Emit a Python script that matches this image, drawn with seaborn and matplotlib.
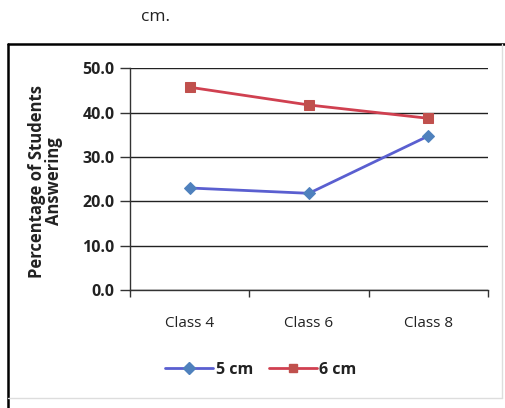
import matplotlib
matplotlib.use("Agg")
import matplotlib.pyplot as plt
import seaborn as sns
import pandas as pd
from matplotlib.lines import Line2D

classes = ["Class 4", "Class 6", "Class 8"]
series_names = ["5 cm", "6 cm"]
values_5cm = [23.0, 21.8, 34.7]
values_6cm = [45.7, 41.7, 38.7]
y_ticks = [0, 10, 20, 30, 40, 50]

df = pd.DataFrame({
    "Class": classes * 2,
    "Percent": values_5cm + values_6cm,
    "Series": [series_names[0]] * 3 + [series_names[1]] * 3,
})
df["pos"] = df["Class"].map({c: i for i, c in enumerate(classes)})

sns.set_theme(style="white")
plt.rcParams["font.family"] = ["Open Sans", "DejaVu Sans"]

fig = plt.figure(figsize=(5.06, 4.08), dpi=100)
ax = fig.add_axes([0.257, 0.289, 0.707, 0.544])

palette = {"5 cm": "#4F81BD", "6 cm": "#C0504D"}
line_colors = {"5 cm": "#5A5FD0", "6 cm": "#D04050"}
markers = {"5 cm": "D", "6 cm": "s"}

for name in series_names:
    sub = df[df["Series"] == name]
    sns.lineplot(data=sub, x="pos", y="Percent", ax=ax, color=line_colors[name],
                 linewidth=2.0, marker=markers[name], markersize=7 if name == "6 cm" else 6,
                 markerfacecolor=palette[name], markeredgecolor=palette[name],
                 legend=False)

ax.set_xlim(-0.5, 2.5)
ax.set_ylim(0, 50)
ax.set_yticks(y_ticks)
ax.set_yticklabels([f"{v:.1f}" for v in y_ticks], fontsize=11.5, fontweight="bold", color="#222222")
ax.set_xticks(range(len(classes)))
ax.set_xticklabels(classes, fontsize=11, color="#222222")
ax.set_xticks([-0.5, 0.5, 1.5, 2.5], minor=True)
ax.tick_params(axis="x", which="major", length=0, pad=19)
ax.tick_params(axis="x", which="minor", length=5, width=1, color="#333333", direction="out", bottom=True)
ax.tick_params(axis="y", length=7, width=1, color="#333333", direction="out", left=True, pad=4)
ax.set_xlabel("")
ax.set_ylabel("Percentage of Students\nAnswering", fontsize=12, fontweight="bold",
              color="#222222", linespacing=0.95)
ax.yaxis.set_label_coords(63 / 506, 1 - 181 / 408, transform=fig.transFigure)
ax.yaxis.grid(True, color="#222222", linewidth=1.0)
ax.xaxis.grid(False)
ax.set_axisbelow(True)
for side in ["top", "right"]:
    ax.spines[side].set_visible(False)
for side in ["left", "bottom"]:
    ax.spines[side].set_color("#333333")
    ax.spines[side].set_linewidth(1.0)

handles = [Line2D([0], [0], color=line_colors[n], linewidth=2, marker=markers[n],
                  markersize=6, markerfacecolor=palette[n], markeredgecolor=palette[n])
           for n in series_names]
leg = fig.legend(handles, series_names, loc="center", bbox_to_anchor=(261 / 506, 1 - 370 / 408),
                 ncol=2, frameon=False, handlelength=3.0, columnspacing=1.0,
                 handletextpad=0.15, prop={"weight": "bold", "size": 11.5})
for t in leg.get_texts():
    t.set_color("#222222")

# outer chart frame
fig.add_artist(Line2D([8 / 506, 8 / 506], [1 - 44 / 408, 0], transform=fig.transFigure,
                      color="black", linewidth=1.8))
fig.add_artist(Line2D([8 / 506, 1], [1 - 44 / 408, 1 - 44 / 408], transform=fig.transFigure,
                      color="black", linewidth=1.8))
fig.add_artist(Line2D([502 / 506, 502 / 506], [1 - 44 / 408, 1 - 398 / 408], transform=fig.transFigure,
                      color="#dddddd", linewidth=1.0))
fig.add_artist(Line2D([8 / 506, 502 / 506], [1 - 398 / 408, 1 - 398 / 408], transform=fig.transFigure,
                      color="#dddddd", linewidth=1.0))

fig.text(156 / 506, 1 - 17 / 408, "cm.", ha="center", va="center", fontsize=12.5, color="#222222")

fig.savefig("out.png", dpi=100)
